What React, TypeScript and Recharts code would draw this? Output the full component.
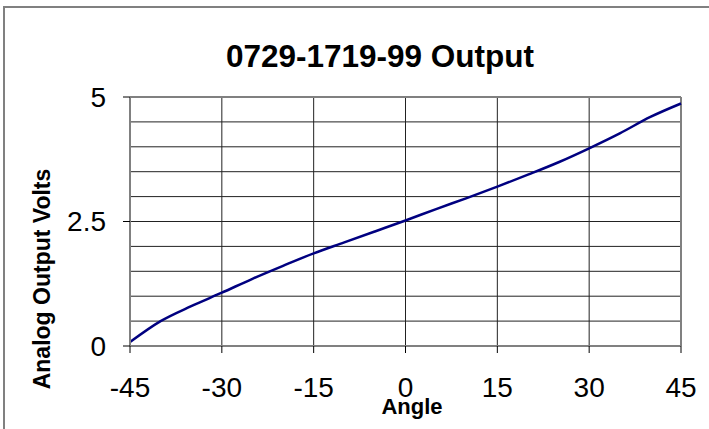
import { LineChart, Line, XAxis, YAxis, CartesianGrid, ReferenceLine } from 'recharts'

// angle in degrees vs analog output in volts
const ANGLES = [-45, -40, -35, -30, -25, -20, -15, -10, -5, 0, 5, 10, 15, 20, 25, 30, 35, 40, 45]
const VOLTS = [0.08, 0.5, 0.8, 1.07, 1.35, 1.61, 1.86, 2.08, 2.3, 2.52, 2.75, 2.97, 3.2, 3.44, 3.69, 3.97, 4.27, 4.6, 4.87]

const X_TICKS = [-45, -30, -15, 0, 15, 30, 45]
const Y_TICKS = [0, 2.5, 5]
const Y_GRID = [0.5, 1, 1.5, 2, 2.5, 3, 3.5, 4, 4.5]

const FONT = '"Liberation Sans", Arial, sans-serif'
const AXIS_GREY = '#808080'

const data = ANGLES.map((a, i) => ({ angle: a, volts: VOLTS[i] }))

export default function App() {
  return (
    <div style={{ position: 'absolute', left: 0, top: 0, width: 709, height: 429, overflow: 'hidden', background: '#fff' }}>
      {/* outer chart frame, only top and left edges fall inside the window */}
      <div style={{ position: 'absolute', left: 3, top: 6, width: 720, height: 440, border: `2px solid ${AXIS_GREY}` }} />
      <LineChart
        width={709}
        height={429}
        data={data}
        margin={{ top: 97, right: 28, bottom: 43, left: 70 }}
        style={{ position: 'absolute', left: 0, top: 0, fontFamily: FONT }}
      >
        <CartesianGrid horizontal={false} stroke="#222" strokeOpacity={1} />
        {Y_GRID.map(v => (
          <ReferenceLine key={v} y={v} stroke="#222" strokeWidth={1} />
        ))}
        <ReferenceLine y={5} stroke={AXIS_GREY} strokeWidth={2} />
        <ReferenceLine x={45} stroke={AXIS_GREY} strokeWidth={2} />
        <XAxis
          dataKey="angle"
          type="number"
          domain={[-45, 45]}
          ticks={X_TICKS}
          height={40}
          axisLine={{ stroke: AXIS_GREY, strokeWidth: 2 }}
          tickLine={{ stroke: '#000' }}
          tickSize={7}
          tickMargin={24}
          tick={{ fill: '#000', fontSize: 28, fontFamily: FONT }}
          interval={0}
        />
        <YAxis
          type="number"
          domain={[0, 5]}
          ticks={Y_TICKS}
          width={60}
          axisLine={{ stroke: AXIS_GREY, strokeWidth: 2 }}
          tickLine={{ stroke: '#000' }}
          tickSize={7}
          tickMargin={17}
          tick={{ fill: '#000', fontSize: 28, fontFamily: FONT }}
          interval={0}
        />
        <Line
          type="monotone"
          dataKey="volts"
          stroke="#000080"
          strokeWidth={2.5}
          dot={false}
          isAnimationActive={false}
        />
      </LineChart>
      <svg width={709} height={429} style={{ position: 'absolute', left: 0, top: 0, pointerEvents: 'none' }}>
        <text x={380} y={67} textAnchor="middle" fontFamily={FONT} fontWeight="bold" fontSize={31.5} fill="#000">
          0729-1719-99 Output
        </text>
        <text transform="translate(50,279) rotate(-90)" textAnchor="middle" fontFamily={FONT} fontWeight="bold" fontSize={23} fill="#000">
          Analog Output Volts
        </text>
        <text x={412} y={414} textAnchor="middle" fontFamily={FONT} fontWeight="bold" fontSize={22} fill="#000">
          Angle
        </text>
      </svg>
    </div>
  )
}
